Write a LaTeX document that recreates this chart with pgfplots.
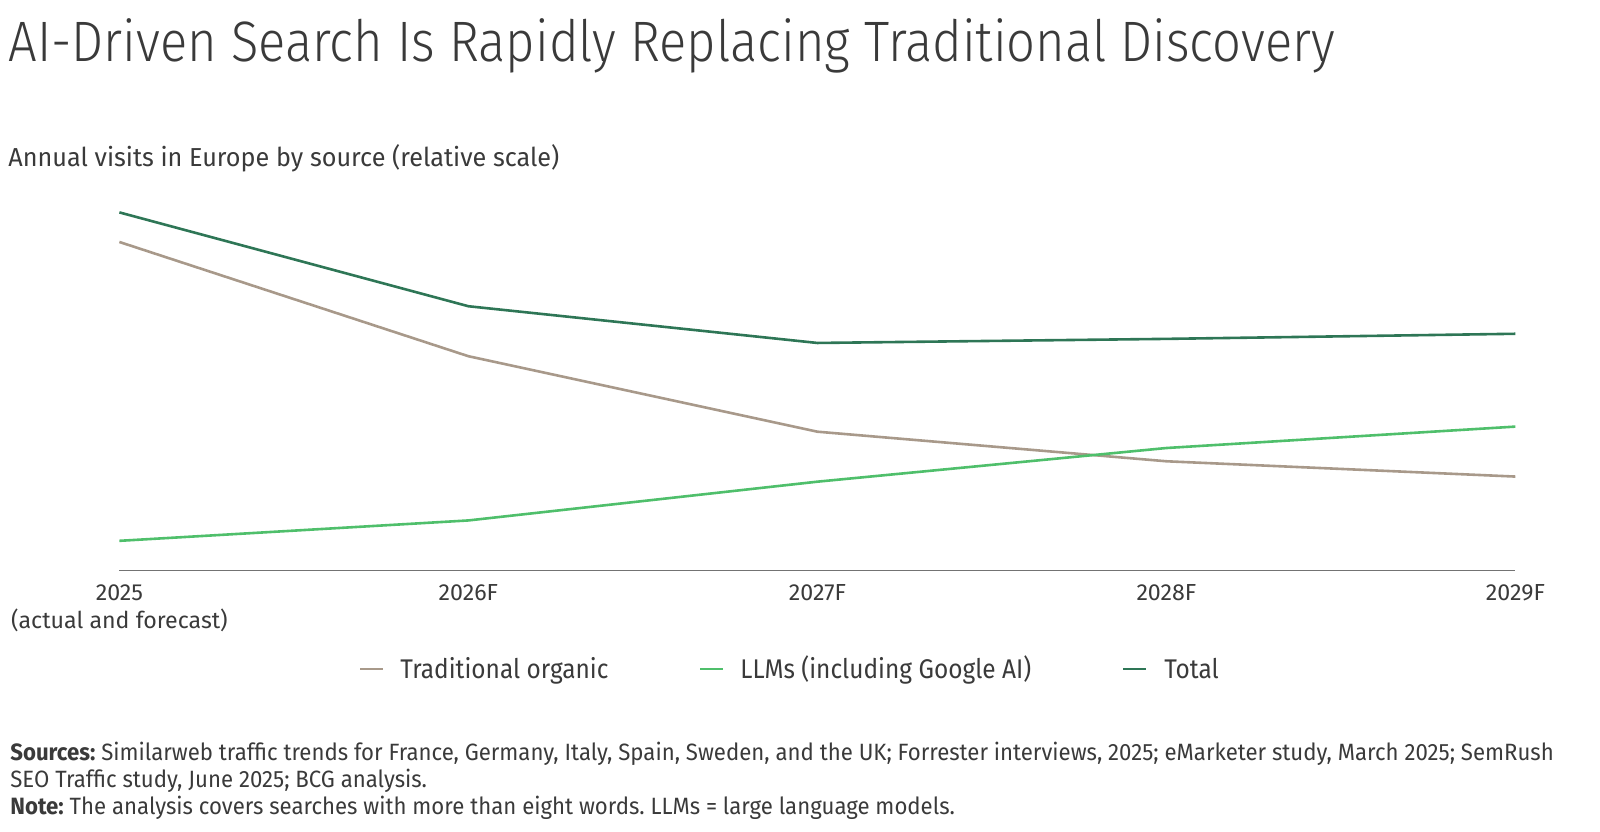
\documentclass[border=0pt]{standalone}
\usepackage{fontspec}
\setmainfont{Fira Sans}[FakeStretch=0.84]
\newfontfamily\titlefont{Fira Sans Light}[FakeStretch=0.89]
\newfontfamily\subfont{Fira Sans}[FakeStretch=0.97]
\newfontfamily\tickfont{Fira Sans}[FakeStretch=1.0]
\newfontfamily\legfont{Fira Sans}[FakeStretch=0.905]
\newfontfamily\notefont{Fira Sans}[FakeStretch=0.94]
\usepackage{pgfplots}
\pgfplotsset{compat=1.18}
\frenchspacing
\definecolor{trad}{HTML}{A8998A}
\definecolor{llm}{HTML}{4FBF6B}
\definecolor{total}{HTML}{2E7656}
\definecolor{txt}{HTML}{3A3A3A}
\pgfplotstableread{
x trad llm total
0 322 29 351
1 210 49 259
2 136 87 223
3 107 120 227
4 92 141 232
}\data
\begin{document}
\begin{tikzpicture}
\path[use as bounding box] (0,0) rectangle (800pt,-415.5pt);
\node[anchor=base west, inner sep=0pt, text=txt, font=\titlefont\fontsize{28.5}{32}\selectfont] at (4pt,-30.5pt) {AI-Driven Search Is Rapidly Replacing Traditional Discovery};
\node[anchor=base west, inner sep=0pt, text=txt, font=\subfont\fontsize{13}{15}\selectfont] at (4pt,-83pt) {Annual visits in Europe by source (relative scale)};
\begin{axis}[
  at={(59.7pt,-285.2pt)}, anchor=south west,
  scale only axis, width=698pt, height=179pt,
  xmin=0, xmax=4, ymin=0, ymax=351,
  axis x line=bottom, axis y line=none,
  axis line style={-, draw=black!55, line width=0.9pt},
  xtick={0,1,2,3,4},
  xticklabels={{2025\\(actual and forecast)},2026F,2027F,2028F,2029F},
  major tick length=0pt,
  xticklabel style={anchor=north, inner sep=0pt, yshift=-7pt, align=center, text=txt, font=\tickfont\fontsize{11.6}{14}\selectfont},
  clip=false,
]
\addplot[trad, line width=1.3pt] table[x=x,y=trad] {\data};
\addplot[llm, line width=1.3pt] table[x=x,y=llm] {\data};
\addplot[total, line width=1.3pt] table[x=x,y=total] {\data};
\end{axis}
\begin{scope}[font=\legfont\fontsize{13.5}{15}\selectfont, text=txt]
\draw[trad, line width=1.3pt] (180pt,-334.5pt) -- (191.3pt,-334.5pt);
\node[anchor=base west, inner sep=0pt] at (200pt,-339pt) {Traditional organic};
\draw[llm, line width=1.3pt] (350pt,-334.5pt) -- (361.3pt,-334.5pt);
\node[anchor=base west, inner sep=0pt] at (370pt,-339pt) {LLMs (including Google AI)};
\draw[total, line width=1.3pt] (561.7pt,-334.5pt) -- (573pt,-334.5pt);
\node[anchor=base west, inner sep=0pt] at (582pt,-339pt) {Total};
\end{scope}
\begin{scope}[font=\notefont\fontsize{11.8}{13.5}\selectfont, text=txt]
\node[anchor=base west, inner sep=0pt] at (5pt,-380pt) {\textbf{Sources:} Similarweb traffic trends for France, Germany, Italy, Spain, Sweden, and the UK; Forrester interviews, 2025; eMarketer study, March 2025; SemRush};
\node[anchor=base west, inner sep=0pt] at (5pt,-393.5pt) {SEO Traffic study, June 2025; BCG analysis.};
\node[anchor=base west, inner sep=0pt] at (5pt,-407pt) {\textbf{Note:} The analysis covers searches with more than eight words. LLMs = large language models.};
\end{scope}
\end{tikzpicture}
\end{document}
